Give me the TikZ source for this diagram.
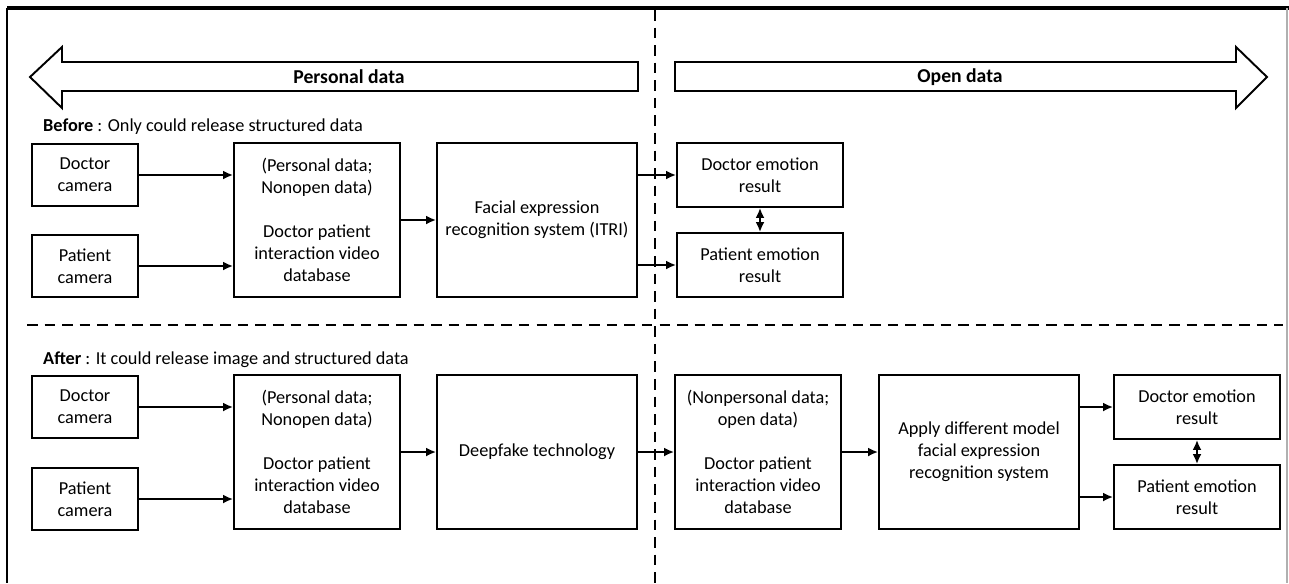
\documentclass[tikz,border=0pt]{standalone}
\usepackage{fontspec}
\setmainfont{Carlito}
\usepackage{tikz}
\usetikzlibrary{arrows.meta}
\definecolor{edgegray}{HTML}{B0B0B0}
\tikzset{
    block/.style={rectangle, draw=black, line width=1.1pt, align=center,
        font=\fontsize{10.4}{12.5}\selectfont, inner sep=2pt},
    camera/.style={block, minimum width=2.12cm, minimum height=1.24cm},
    dbbox/.style={block, minimum width=3.32cm, minimum height=3.08cm},
    sysbox/.style={block, minimum width=4.0cm, minimum height=3.08cm},
    result/.style={block, minimum width=3.32cm, minimum height=1.28cm},
    flow/.style={-{Latex[length=2mm,width=1.8mm]}, line width=1.1pt},
    twoway/.style={{Latex[length=2mm,width=1.8mm]}-{Latex[length=2mm,width=1.8mm]}, line width=1.1pt},
    bigarrow/.style={draw=black, line width=1.1pt, fill=white, line join=miter},
    divider/.style={dash pattern=on 6pt off 4pt, line width=0.9pt},
    phase/.style={anchor=west, font=\fontsize{10.4}{12.5}\selectfont},
    banner/.style={font=\fontsize{11.2}{13}\selectfont\bfseries}
}

\begin{document}
\begin{tikzpicture}[x=0.02cm, y=-0.02cm]
        \useasboundingbox (0,0) rectangle (1289,583);
        \draw[line width=1.8pt] (7,8) -- (1289,8);
        \draw[line width=1.2pt] (7,8) -- (7,583);
        \draw[edgegray, line width=0.6pt] (1287,8) -- (1287,583);
        \draw[divider] (655,10) -- (655,583);
        \draw[divider] (27,325) -- (1283,325);
        \draw[bigarrow] (30,77) -- (62,47) -- (62,62) -- (638,62) -- (638,91)
            -- (62,91) -- (62,108) -- cycle;
        \draw[bigarrow] (675,62) -- (1236,62) -- (1236,47) -- (1267,77)
            -- (1236,108) -- (1236,91) -- (675,91) -- cycle;
        \node[banner] (personal) at (349,77) {Personal data};
        \node[banner] (open) at (960,77) {Open data};
        \node[phase] (before) at (37,127) {\textbf{Before} : Only could release structured data};
        \node[phase] (after) at (37,360) {\textbf{After} : It could release image and structured data};
        \node[camera] (doccam) at (85,175) {Doctor\\camera};
        \node[camera] (patcam) at (85,266) {Patient\\camera};
        \node[dbbox] (videodb) at (317,220) {(Personal data;\\Nonopen data)\\[12.5pt]Doctor patient\\interaction video\\database};
        \node[sysbox] (fer) at (537,220) {Facial expression\\recognition system (ITRI)};
        \node[result] (docemo) at (760,175) {Doctor emotion\\result};
        \node[result] (patemo) at (760,265) {Patient emotion\\result};
        \node[camera] (doccamb) at (85,407) {Doctor\\camera};
        \node[camera] (patcamb) at (85,499) {Patient\\camera};
        \node[dbbox] (videodbb) at (317,452) {(Personal data;\\Nonopen data)\\[12.5pt]Doctor patient\\interaction video\\database};
        \node[sysbox] (deepfake) at (537,452) {Deepfake technology};
        \node[dbbox] (opendb) at (758,452) {(Nonpersonal data;\\open data)\\[12.5pt]Doctor patient\\interaction video\\database};
        \node[sysbox] (applyfer) at (979,452) {Apply different model\\facial expression\\recognition system};
        \node[result] (docemob) at (1197,407) {Doctor emotion\\result};
        \node[result] (patemob) at (1197,497) {Patient emotion\\result};
        \draw[flow] (doccam) -- (doccam -| videodb.west);
        \draw[flow] (patcam) -- (patcam -| videodb.west);
        \draw[flow] (videodb) -- (fer);
        \draw[flow] (fer.east |- docemo) -- (docemo);
        \draw[flow] (fer.east |- patemo) -- (patemo);
        \draw[twoway] (docemo) -- (patemo);
        \draw[flow] (doccamb) -- (doccamb -| videodbb.west);
        \draw[flow] (patcamb) -- (patcamb -| videodbb.west);
        \draw[flow] (videodbb) -- (deepfake);
        \draw[flow] (deepfake) -- (opendb);
        \draw[flow] (opendb) -- (applyfer);
        \draw[flow] (applyfer.east |- docemob) -- (docemob);
        \draw[flow] (applyfer.east |- patemob) -- (patemob);
        \draw[twoway] (docemob) -- (patemob);
    \end{tikzpicture}
\end{document}
